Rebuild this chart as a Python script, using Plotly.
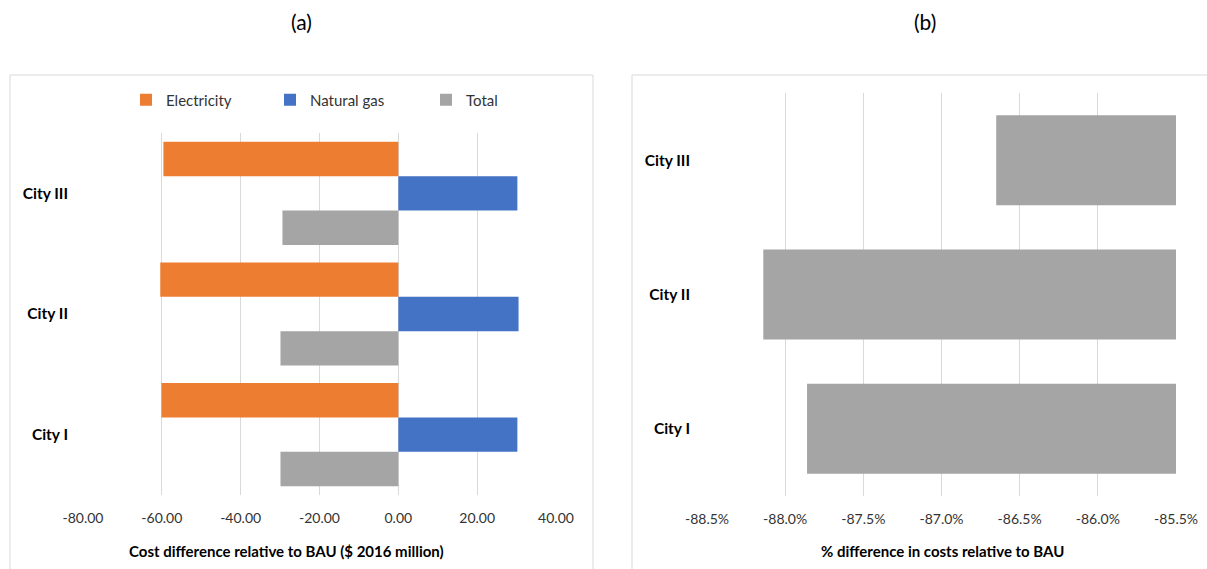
import plotly.graph_objects as go

W, H = 1207, 569

# ---- data ----
cities = ["City I", "City II", "City III"]
electricity = [-60.1, -60.4, -59.6]
natural_gas = [30.2, 30.5, 30.2]
total = [-29.9, -29.9, -29.4]
pct_total = [-87.86, -88.14, -86.65]

a_tickvals = [-80, -60, -40, -20, 0, 20, 40]
a_ticktext = ["-80.00", "-60.00", "-40.00", "-20.00", "0.00", "20.00", "40.00"]
b_tickvals = [-88.5, -88.0, -87.5, -87.0, -86.5, -86.0, -85.5]
b_ticktext = ["-88.5%", "-88.0%", "-87.5%", "-87.0%", "-86.5%", "-86.0%", "-85.5%"]

FONT = "Lato"
ORANGE, BLUE, GRAY = "#ED7D31", "#4472C4", "#A5A5A5"
GRID = "#D9D9D9"


def px_x(p):
    return p / W


def px_y(p):
    return 1 - p / H


fig = go.Figure()

# panel (a): added bottom-to-top within each group
fig.add_trace(go.Bar(y=cities, x=total, orientation="h", name="Total",
                     marker=dict(color=GRAY, line=dict(width=0)),
                     xaxis="x", yaxis="y", legend="legend3"))
fig.add_trace(go.Bar(y=cities, x=natural_gas, orientation="h", name="Natural gas",
                     marker=dict(color=BLUE, line=dict(width=0)),
                     xaxis="x", yaxis="y", legend="legend2"))
fig.add_trace(go.Bar(y=cities, x=electricity, orientation="h", name="Electricity",
                     marker=dict(color=ORANGE, line=dict(width=0)),
                     xaxis="x", yaxis="y", legend="legend"))

# panel (b)
fig.add_trace(go.Bar(y=cities, x=pct_total, orientation="h", name="Total %",
                     marker=dict(color=GRAY, line=dict(width=0)), width=0.67,
                     xaxis="x2", yaxis="y2", showlegend=False))

tick_font = dict(family=FONT, size=14, color="#333333")
cat_font = dict(family=FONT, size=15.5, color="#000000", weight="bold")
leg_font = dict(family=FONT, size=15, color="#333333")

fig.update_layout(
    width=W, height=H,
    margin=dict(l=0, r=0, t=0, b=0),
    paper_bgcolor="white", plot_bgcolor="white",
    barmode="group", bargap=0.145, bargroupgap=0,
    font=dict(family=FONT),
    xaxis=dict(domain=[px_x(83), px_x(556)], range=[-80, 40],
               tickvals=a_tickvals, ticktext=a_ticktext, tickfont=tick_font,
               showgrid=True, gridcolor=GRID, gridwidth=1, zeroline=False,
               showline=False, ticks="", ticklabelstandoff=13, anchor="y",
               automargin=False),
    yaxis=dict(domain=[px_y(495), px_y(133)], range=[-0.5, 2.5],
               tickfont=cat_font, showgrid=False, zeroline=False,
               showline=False, ticks="", ticklabelstandoff=14, anchor="x",
               automargin=False),
    xaxis2=dict(domain=[px_x(707), px_x(1176)], range=[-88.5, -85.5],
                tickvals=b_tickvals, ticktext=b_ticktext, tickfont=tick_font,
                showgrid=True, gridcolor=GRID, gridwidth=1, zeroline=False,
                showline=False, ticks="", ticklabelstandoff=13, anchor="y2",
                automargin=False),
    yaxis2=dict(domain=[px_y(496), px_y(93)], range=[-0.5, 2.5],
                tickfont=cat_font, showgrid=False, zeroline=False,
                showline=False, ticks="", ticklabelstandoff=16, anchor="x2",
                automargin=False),
    legend=dict(x=px_x(126), y=px_y(100), xanchor="left", yanchor="middle",
                orientation="h", font=leg_font,
                bgcolor="rgba(0,0,0,0)", borderwidth=0),
    legend2=dict(x=px_x(270), y=px_y(100), xanchor="left", yanchor="middle",
                 orientation="h", font=leg_font,
                 bgcolor="rgba(0,0,0,0)", borderwidth=0),
    legend3=dict(x=px_x(426), y=px_y(100), xanchor="left", yanchor="middle",
                 orientation="h", font=leg_font,
                 bgcolor="rgba(0,0,0,0)", borderwidth=0),
    shapes=[
        dict(type="rect", xref="paper", yref="paper",
             x0=px_x(10), x1=px_x(593), y0=-0.02, y1=px_y(75),
             line=dict(color=GRID, width=1), fillcolor="rgba(0,0,0,0)", layer="below"),
        dict(type="rect", xref="paper", yref="paper",
             x0=px_x(632), x1=1.02, y0=-0.02, y1=px_y(75),
             line=dict(color=GRID, width=1), fillcolor="rgba(0,0,0,0)", layer="below"),
    ],
    annotations=[
        dict(text="(a)", xref="paper", yref="paper", x=px_x(301), y=px_y(22),
             showarrow=False, xanchor="center", yanchor="middle",
             font=dict(family=FONT, size=21, color="#000000")),
        dict(text="(b)", xref="paper", yref="paper", x=px_x(925), y=px_y(22),
             showarrow=False, xanchor="center", yanchor="middle",
             font=dict(family=FONT, size=21, color="#000000")),
        dict(text="Cost difference relative to BAU ($ 2016 million)", xref="paper",
             yref="paper", x=px_x(286), y=px_y(551), showarrow=False,
             xanchor="center", yanchor="middle",
             font=dict(family=FONT, size=15, color="#000000", weight="bold")),
        dict(text="% difference in costs relative to BAU", xref="paper",
             yref="paper", x=px_x(942), y=px_y(551), showarrow=False,
             xanchor="center", yanchor="middle",
             font=dict(family=FONT, size=15, color="#000000", weight="bold")),
    ],
)

fig.write_html("out.html")
